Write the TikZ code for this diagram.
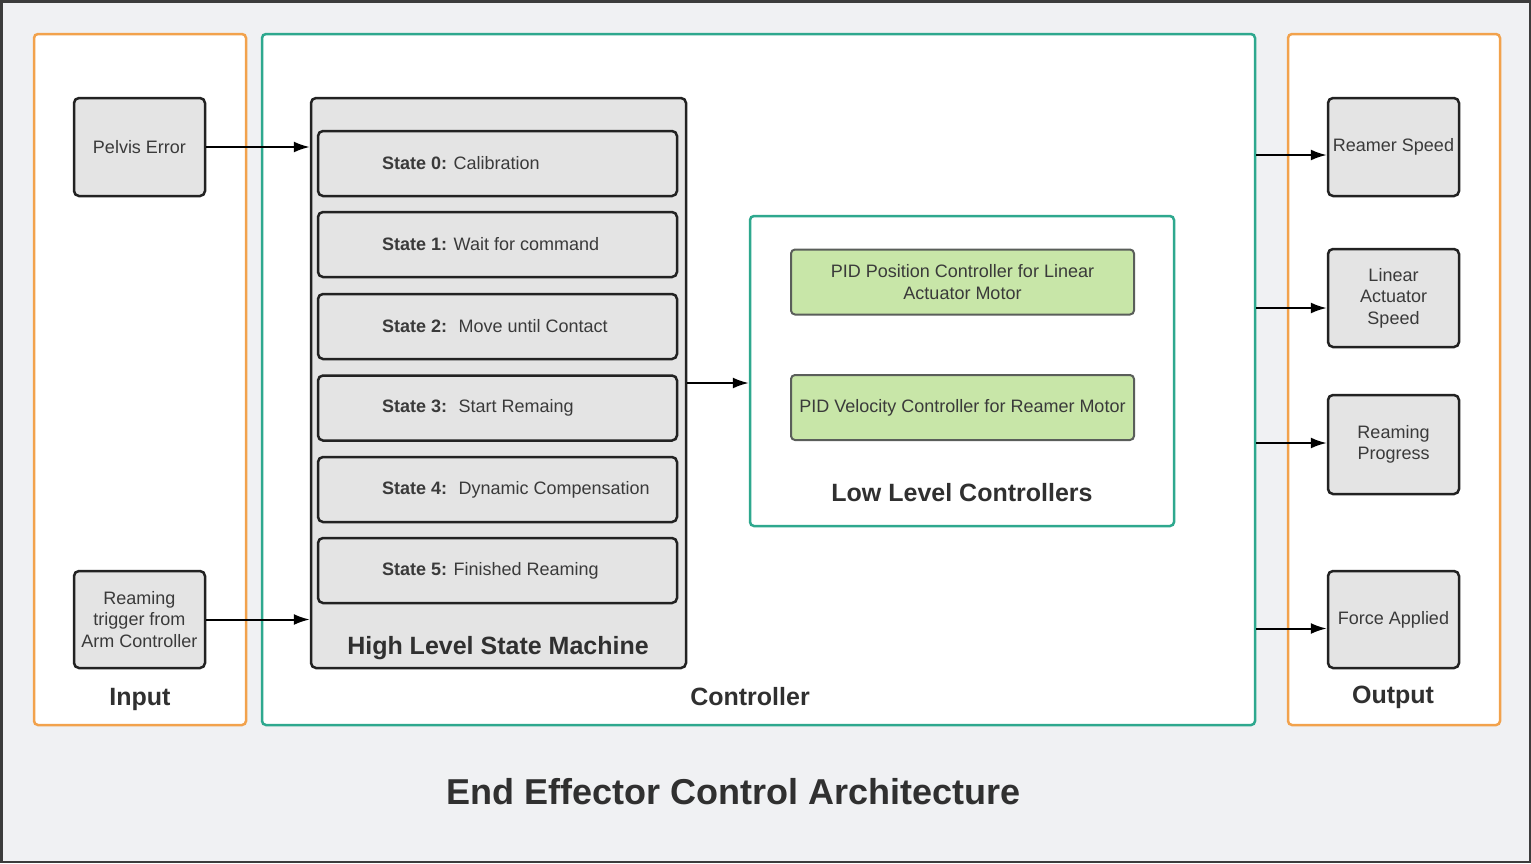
\documentclass[tikz,border=0pt]{standalone}
\usepackage{fontspec}
\setmainfont{Liberation Sans}
\usetikzlibrary{arrows.meta}
\definecolor{bgc}{HTML}{F0F1F3}
\definecolor{framec}{HTML}{3C3C3C}
\definecolor{orangec}{HTML}{F2A24C}
\definecolor{tealc}{HTML}{2EA88E}
\definecolor{boxfill}{HTML}{E4E4E4}
\definecolor{boxline}{HTML}{222222}
\definecolor{greenfill}{HTML}{C8E6A8}
\definecolor{greenline}{HTML}{5A5E5A}
\definecolor{txt}{HTML}{3A3A3A}
\definecolor{hdr}{HTML}{303030}
\tikzset{
  container/.style={draw=#1, fill=white, line width=2.5pt, rounded corners=4pt, inner sep=0pt},
  graybox/.style={draw=boxline, fill=boxfill, line width=2.5pt, rounded corners=5pt, inner sep=0pt,
    minimum width=131pt, minimum height=98pt, align=center, text=txt,
    font=\fontsize{18}{21.5}\selectfont},
  statebox/.style={draw=boxline, fill=boxfill, line width=2.5pt, rounded corners=5pt, inner sep=0pt,
    minimum width=359pt, minimum height=65pt, text=txt, font=\fontsize{18}{21.5}\selectfont},
  greenbox/.style={draw=greenline, fill=greenfill, line width=2pt, rounded corners=4pt, inner sep=0pt,
    minimum width=343pt, minimum height=65pt, align=center, text=txt, font=\fontsize{18}{22}\selectfont},
  biglabel/.style={text=hdr, font=\bfseries\fontsize{25}{30}\selectfont, inner sep=0pt},
  arr/.style={draw=black, line width=2pt, -{Latex[length=16pt,width=11pt]}},
}
\newcommand{\stxt}[2]{\makebox[231pt][l]{\textbf{#1} #2}}
\begin{document}
\begin{tikzpicture}[x=1pt,y=-1pt]
\useasboundingbox (0,0) rectangle (1531,863);
\fill[bgc] (0,0) rectangle (1531,863);
\draw[framec, line width=2.5pt] (1.25,1.25) rectangle (1529.75,861.75);

% containers
\node[container=orangec, minimum width=212pt, minimum height=691pt] (input) at (140,379.5) {};
\node[container=tealc, minimum width=993pt, minimum height=691pt] (ctrl) at (758.5,379.5) {};
\node[container=orangec, minimum width=212pt, minimum height=691pt] (output) at (1394,379.5) {};

% inputs
\node[graybox] (pelvis) at (139.5,147) {Pelvis Error};
\node[graybox, minimum height=97pt] (trigger) at (139.5,619.5) {Reaming\\trigger from\\Arm Controller};
\node[biglabel] (inputlbl) at (140,699) {Input};

% state machine
\node[graybox, minimum width=375pt, minimum height=570pt] (hsm) at (498.5,383) {};
\node[statebox] (s0) at (497.5,163.5) {\stxt{State 0:}{Calibration}};
\node[statebox] (s1) at (497.5,244.5) {\stxt{State 1:}{Wait for command}};
\node[statebox] (s2) at (497.5,326.5) {\stxt{State 2:}{\ Move until Contact}};
\node[statebox] (s3) at (497.5,408) {\stxt{State 3:}{\ Start Remaing}};
\node[statebox] (s4) at (497.5,489.5) {\stxt{State 4:}{\ Dynamic Compensation}};
\node[statebox] (s5) at (497.5,570.5) {\stxt{State 5:}{Finished Reaming}};
\node[biglabel] (hsmlbl) at (498,648) {High Level State Machine};

% low level controllers
\node[container=tealc, minimum width=424pt, minimum height=310pt] (llc) at (962,371) {};
\node[greenbox] (pidpos) at (962.5,282) {PID Position Controller for Linear\\Actuator Motor};
\node[greenbox] (pidvel) at (962.5,407.5) {PID Velocity Controller for Reamer Motor};
\node[biglabel] (llclbl) at (962,493) {Low Level Controllers};

\node[biglabel] (ctrllbl) at (750,697) {Controller};

% outputs
\node[graybox] (reamer) at (1393.5,147) {Reamer Speed};
\node[graybox] (linact) at (1393.5,298) {Linear\\Actuator\\Speed};
\node[graybox, minimum height=99pt] (progress) at (1393.5,444.5) {Reaming\\Progress};
\node[graybox, minimum height=97pt] (force) at (1393.5,619.5) {Force Applied};
\node[biglabel] (outputlbl) at (1393,697) {Output};

% title
\node[text=hdr, font=\bfseries\fontsize{36}{42}\selectfont, inner sep=0pt] (title) at (734,792) {End Effector Control Architecture};

% arrows
\draw[arr] (pelvis.east) -- (pelvis.east -| hsm.west);
\draw[arr] (trigger.east) -- (trigger.east -| hsm.west);
\draw[arr] (hsm.east) -- (hsm.east -| llc.west);
\draw[arr] ([yshift=-8pt]reamer.west -| ctrl.east) -- ([yshift=-8pt]reamer.west);
\draw[arr] ([yshift=-10pt]linact.west -| ctrl.east) -- ([yshift=-10pt]linact.west);
\draw[arr] ([yshift=1.5pt]progress.west -| ctrl.east) -- ([yshift=1.5pt]progress.west);
\draw[arr] ([yshift=-9pt]force.west -| ctrl.east) -- ([yshift=-9pt]force.west);
\end{tikzpicture}
\end{document}
